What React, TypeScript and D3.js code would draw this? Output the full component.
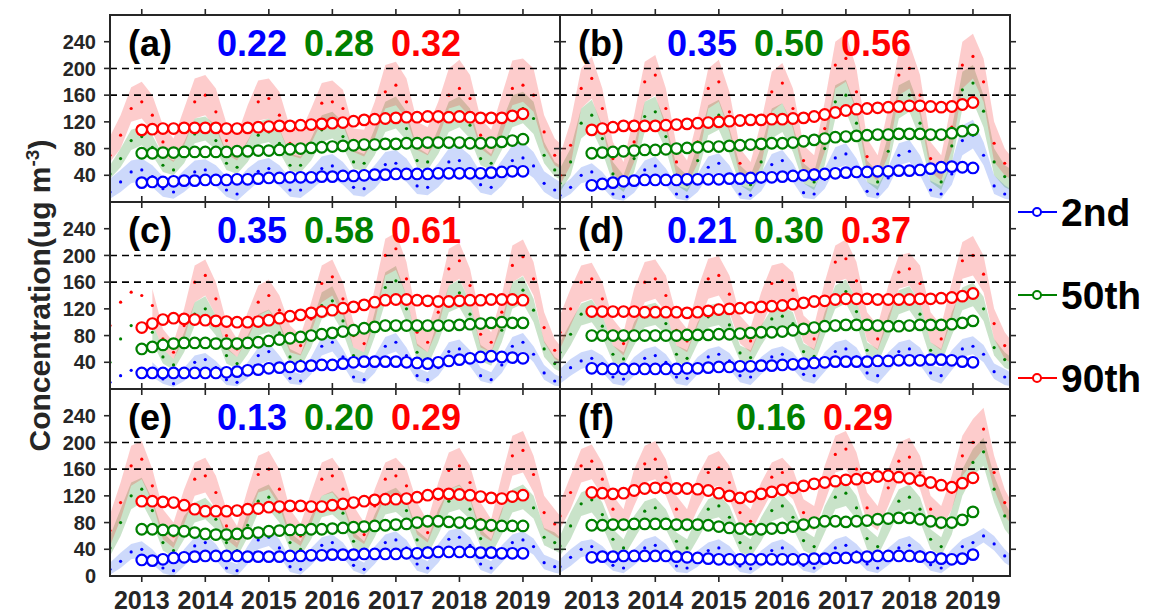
import * as d3 from 'd3'

// sample times: bands/dots every 2 months from Jul 2012, trends every 2 months 2013-2019
const BAND_T = d3.range(44).map(k => 2012.5 + k / 6)
const TREND_T = d3.range(37).map(k => 2013 + k / 6)
const YEAR_TICKS = [2013, 2014, 2015, 2016, 2017, 2018, 2019]
const Y_TICKS = [40, 80, 120, 160, 200, 240]
const DASH_LEVELS = [160, 200]
const SERIES = ['2nd', '50th', '90th']
const LINE_COLORS = ['#0000ff', '#008000', '#ff0000']
const BAND_COLORS = ['#2f62f0', '#1e8c1e', '#f52a2a']
const PANEL_TAGS = ['(a)', '(b)', '(c)', '(d)', '(e)', '(f)']
const PANEL_R = [
  ['0.22', '0.28', '0.32'],
  ['0.35', '0.50', '0.56'],
  ['0.35', '0.58', '0.61'],
  ['0.21', '0.30', '0.37'],
  ['0.13', '0.20', '0.29'],
  ['', '0.16', '0.29'],
]

const _ = null

// ---- panel (a)
const aBlueHi = [35,48,62,65,55,38, 32,48,62,64,55,38, 32,50,62,66,55,36, 35,50,68,72,60,40, 38,55,75,78,65,42, 40,58,80,83,70,44, 40,62,85,90,75,46, 35,25]
const aBlueLo = [5,15,28,32,22,8, 5,15,28,32,24,8, 2,16,30,34,24,8, 6,18,32,36,26,10, 8,20,38,40,30,12, 10,22,40,44,32,14, 10,24,44,48,36,15, 5,2]
const aBlueDot = [15,30,45,48,38,20, 15,30,45,48,38,18, 12,32,46,50,38,18, 18,34,50,54,42,22, 20,36,56,58,46,24, 22,38,60,62,50,26, 22,40,62,66,54,28, 18,12]
const aGreenHi = [55,80,108,113,100,70, 62,90,125,128,115,75, 65,92,120,125,110,72, 68,95,130,135,120,78, 72,110,150,158,135,82, 72,110,150,158,140,85, 72,120,160,165,150,90, 60,50]
const aGreenLo = [35,52,78,85,70,45, 40,58,88,92,78,48, 42,60,86,90,75,46, 44,62,90,95,82,50, 46,70,105,110,92,52, 48,72,105,112,95,55, 48,78,112,118,102,58, 38,30]
const aGreenDot = [42,65,92,98,82,55, 48,72,102,108,92,58, 52,75,100,105,88,55, 55,75,108,112,98,60, 58,88,125,130,110,62, 60,88,125,132,115,65, 58,95,135,140,125,70, 48,40]
const aRedHi = [98,130,172,180,160,115, 95,140,185,190,170,118, 100,145,182,185,165,112, 105,140,178,182,168,110, 108,150,205,210,185,120, 112,150,200,213,190,125, 108,160,212,215,200,130, 95,80]
const aRedLo = [60,80,120,125,105,70, 60,85,125,130,110,72, 62,90,122,125,108,70, 65,88,120,125,115,75, 68,95,140,145,125,78, 70,95,140,145,128,80, 68,100,145,150,135,82, 55,45]
const aRedDot = [70,100,140,150,130,90, 75,105,150,160,135,92, 78,115,150,155,130,88, 80,112,148,150,140,90, 85,120,165,175,150,95, 88,120,160,170,155,100, 85,125,170,175,160,105, 70,60]
const aBlueTrend = [29,30,30,31,32,32, 33,33,33,34,34,35, 36,36,37,37,37,38, 38,39,39,40,41,41, 42,42,42,42,43,43, 43,43,43,44,45,46, 46]
const aGreenTrend = [73,73,74,74,75,75, 75,75,75,76,76,77, 77,78,79,80,81,82, 83,84,85,86,86,87, 87,88,88,89,89,89, 89,88,88,89,90,92, 94]
const aRedTrend = [108,109,110,110,111,111, 111,111,110,110,111,112, 113,114,114,115,116,117, 118,119,121,123,124,125, 126,127,127,128,128,127, 128,127,126,126,126,129, 132]

// ---- panel (b)
const bBlueHi = [22,35,52,58,45,25, 20,40,62,68,50,25, 20,42,68,73,55,25, 20,44,72,78,58,28, 22,50,82,88,65,30, 24,52,88,93,70,32, 24,60,115,123,90,40, 25,15]
const bBlueLo = [3,12,28,32,22,5, 2,14,35,40,25,5, 2,15,38,44,28,5, 3,16,42,48,30,6, 4,20,50,55,35,8, 5,22,55,60,40,8, 5,26,70,80,55,12, 5,2]
const bBlueDot = [10,22,40,45,32,12, 8,26,48,54,36,12, 8,28,52,58,40,12, 10,30,56,62,42,14, 12,34,66,72,48,16, 12,36,70,76,52,18, 12,42,92,100,70,24, 12,6]
const bGreenHi = [50,80,140,153,115,60, 40,85,150,158,118,55, 40,85,145,153,110,55, 40,82,140,148,115,58, 45,105,175,183,140,62, 45,100,175,183,140,60, 45,110,195,205,160,80, 55,45]
const bGreenLo = [15,40,95,108,75,28, 15,45,105,112,78,25, 15,42,100,108,72,25, 15,40,95,105,75,28, 18,55,125,135,95,30, 18,52,125,135,95,30, 18,58,140,150,112,40, 22,15]
const bGreenDot = [28,60,118,130,95,42, 25,65,128,135,98,40, 26,62,122,130,90,40, 26,60,118,126,95,42, 30,80,150,160,118,45, 30,76,150,160,118,45, 30,84,168,178,136,60, 38,28]
const bRedHi = [70,120,200,218,170,90, 60,130,210,220,170,85, 62,125,200,213,165,80, 60,120,195,208,170,85, 70,150,240,252,200,95, 70,140,225,237,190,90, 70,150,240,252,215,120, 80,60]
const bRedLo = [25,55,140,155,110,45, 22,60,150,160,110,40, 25,58,140,150,105,38, 25,55,135,148,110,40, 30,75,170,180,135,45, 32,70,160,170,130,45, 32,78,170,185,150,60, 40,30]
const bRedDot = [40,85,170,185,140,65, 35,90,180,190,140,60, 40,90,170,180,135,58, 40,88,165,178,140,62, 48,110,205,215,165,68, 50,105,190,200,160,65, 50,112,205,218,180,88, 58,45]
const bBlueTrend = [25,27,29,31,32,33, 33,33,33,34,34,34, 34,35,35,36,37,37, 38,39,40,41,42,43, 44,45,45,46,46,47, 47,48,50,52,53,52, 51]
const bGreenTrend = [73,74,75,76,77,78, 78,79,80,81,82,83, 83,84,85,86,87,88, 88,89,91,93,95,97, 98,99,100,101,101,102, 102,102,101,101,103,106, 108]
const bRedTrend = [108,110,112,114,114,114, 114,115,116,117,118,119, 120,121,122,123,123,124, 124,125,126,128,131,134, 137,139,140,141,142,143, 144,144,143,142,143,146, 149]

// ---- panel (c)
const cBlueHi = [_,_,_,_,40,25, 18,32,50,54,42,25, 20,40,62,69,50,28, 22,48,78,84,60,30, 24,50,78,84,62,32, 25,45,70,74,58,32, 25,50,78,84,64,36, 22,15]
const cBlueLo = [_,_,_,_,18,8, 3,12,28,32,22,6, 4,16,36,42,28,8, 6,22,50,56,36,10, 8,24,50,56,38,12, 8,20,42,46,34,12, 8,24,50,56,40,14, 5,3]
const cBlueDot = [10,20,28,30,28,15, 8,22,40,44,32,14, 10,28,50,56,38,16, 12,34,64,70,48,18, 14,36,64,70,50,20, 14,32,56,60,46,20, 14,36,64,70,52,24, 12,6]
const cGreenHi = [_,_,_,_,100,60, 45,85,130,139,110,62, 48,80,112,119,100,60, 52,95,145,154,120,62, 55,115,175,184,140,68, 55,105,155,164,130,66, 55,105,160,169,135,72, 48,38]
const cGreenLo = [_,_,_,_,70,38, 28,55,95,100,80,38, 30,52,80,85,70,38, 32,62,105,112,85,40, 35,78,130,140,100,42, 35,70,115,122,95,42, 35,70,120,128,100,48, 30,22]
const cGreenDot = [40,75,95,95,85,48, 36,70,112,120,95,50, 38,66,96,102,84,48, 42,78,125,132,102,50, 45,95,152,162,120,55, 45,88,135,144,112,54, 45,88,140,148,118,60, 38,30]
const cRedHi = [_,_,_,_,150,90, 70,120,185,194,160,100, 75,115,155,164,140,95, 80,130,185,194,160,100, 85,150,225,234,190,105, 88,140,210,219,180,105, 85,140,215,224,190,115, 75,55]
const cRedLo = [_,_,_,_,100,60, 45,75,130,140,110,60, 48,75,110,118,95,55, 50,85,130,140,110,62, 55,100,170,178,140,65, 55,92,155,165,130,62, 55,92,160,170,140,70, 45,35]
const cRedDot = [95,130,145,140,125,75, 55,95,160,170,135,80, 60,95,130,140,118,75, 65,105,158,168,135,80, 68,125,200,210,165,85, 70,115,180,192,155,82, 70,115,185,198,165,92, 58,45]
const cBlueTrend = [24,24,24,24,24,24, 24,24,25,26,28,29, 31,32,33,34,35,36, 36,38,40,41,41,41, 41,40,39,38,40,42, 44,46,48,49,48,47, 46]
const cGreenTrend = [60,63,66,68,69,69, 69,68,68,68,69,70, 72,74,76,78,80,82, 84,86,88,91,93,95, 95,95,95,95,95,95, 96,97,98,99,100,99, 99]
const cRedTrend = [92,98,104,106,105,104, 103,102,101,100,100,101, 103,106,109,111,114,116, 118,121,123,126,130,133, 134,134,133,132,131,131, 132,133,133,134,134,134, 133]

// ---- panel (d)
const dBlueHi = [30,45,55,59,50,30, 28,48,60,64,52,30, 28,48,60,64,54,32, 30,48,60,64,55,34, 32,55,70,74,62,36, 32,55,70,74,62,36, 32,58,75,79,66,38, 30,20]
const dBlueLo = [8,20,30,35,25,8, 5,20,34,38,28,8, 5,22,36,40,30,10, 6,22,36,40,30,12, 8,26,44,48,36,14, 8,26,44,48,36,14, 8,28,48,52,40,15, 6,3]
const dBlueDot = [18,32,42,46,38,18, 15,34,46,50,40,18, 16,35,48,52,42,20, 18,35,48,52,42,22, 20,40,56,60,48,24, 20,40,56,60,48,24, 20,42,60,64,52,26, 18,10]
const dGreenHi = [70,100,128,134,110,65, 55,100,125,129,115,65, 58,100,125,129,112,65, 58,95,120,124,115,68, 60,115,155,164,135,70, 60,110,148,154,130,70, 60,115,152,159,138,75, 55,42]
const dGreenLo = [40,65,95,100,78,40, 35,65,92,96,82,40, 35,68,92,96,80,42, 36,65,90,94,82,44, 38,80,120,128,98,46, 38,75,112,118,95,45, 38,80,118,124,102,50, 32,25]
const dGreenDot = [55,82,112,118,94,52, 45,82,108,112,98,52, 46,84,108,112,96,54, 47,80,105,109,98,56, 49,98,138,146,116,58, 49,92,130,136,112,58, 49,98,135,142,120,62, 44,34]
const dRedHi = [110,150,185,189,160,105, 85,150,190,194,170,110, 90,150,195,199,170,110, 92,145,185,189,175,110, 95,160,215,224,190,115, 95,155,200,204,185,115, 95,160,220,229,200,120, 85,65]
const dRedLo = [60,95,130,135,110,65, 50,90,130,135,115,65, 55,95,135,140,115,68, 55,92,130,135,120,70, 58,105,160,165,135,72, 58,100,150,155,130,70, 58,105,165,170,145,75, 45,35]
const dRedDot = [85,120,160,165,135,85, 68,120,160,165,140,88, 72,122,165,170,142,88, 72,118,158,162,148,90, 75,132,190,195,162,92, 75,128,175,180,158,92, 75,132,192,200,172,98, 65,50]
const dBlueTrend = [31,30,30,30,30,30, 30,30,30,31,31,32, 33,33,34,34,35,35, 36,37,38,39,40,41, 41,41,41,42,42,43, 43,43,44,44,43,41, 40]
const dGreenTrend = [80,80,80,80,80,80, 80,80,80,81,81,81, 82,82,83,84,85,85, 86,88,90,92,94,95, 96,96,96,95,94,94, 95,96,96,96,97,99, 102]
const dRedTrend = [116,116,116,116,116,115, 115,115,115,114,115,117, 119,120,121,122,123,124, 125,127,129,131,132,134, 135,135,135,134,134,134, 134,135,135,136,137,139, 143]

// ---- panel (e)
const eBlueHi = [20,35,48,52,40,22, 18,40,58,62,48,24, 18,45,68,72,55,26, 20,42,58,62,50,28, 20,44,62,67,54,30, 22,48,68,72,58,30, 22,46,62,67,56,32, 25,18]
const eBlueLo = [2,12,25,28,18,4, 0,15,32,36,24,5, 0,18,40,45,30,6, 2,16,34,38,28,8, 2,18,38,42,30,8, 3,20,42,46,34,9, 3,20,38,42,32,10, 5,2]
const eBlueDot = [10,22,36,40,28,12, 8,26,45,50,36,12, 8,30,54,58,42,14, 10,28,46,50,38,16, 10,30,50,54,42,18, 12,32,55,58,46,18, 12,32,50,54,44,20, 14,8]
const eGreenHi = [60,100,140,147,115,65, 50,90,110,117,100,65, 50,95,130,137,112,65, 52,90,120,127,110,66, 52,92,125,132,115,68, 55,100,130,137,118,70, 55,100,130,137,120,72, 65,50]
const eGreenLo = [30,60,100,110,80,38, 28,55,80,85,70,38, 28,58,95,100,80,38, 30,55,88,92,78,40, 30,58,92,96,82,42, 32,62,95,100,85,44, 32,62,95,100,86,46, 38,30]
const eGreenDot = [42,80,120,130,98,50, 38,72,95,100,85,50, 38,76,112,118,96,50, 40,72,104,110,94,52, 40,75,108,114,98,54, 42,80,112,118,100,56, 42,80,112,118,102,58, 50,38]
const eRedHi = [92,140,195,202,160,100, 80,130,170,177,150,100, 75,130,180,187,160,100, 78,125,170,177,155,105, 80,130,170,177,160,110, 82,140,185,192,165,110, 85,150,210,217,180,120, 100,80]
const eRedLo = [45,85,135,145,110,55, 42,78,120,125,100,55, 42,80,125,130,105,55, 45,78,120,125,105,58, 48,82,120,125,110,62, 50,90,130,135,115,62, 52,95,150,155,125,70, 60,50]
const eRedDot = [68,110,165,175,135,75, 60,102,145,150,125,75, 58,105,152,160,130,75, 60,100,145,150,130,80, 62,105,145,150,135,85, 65,115,158,165,140,85, 68,120,180,188,152,95, 78,62]
const eBlueTrend = [24,23,25,27,28,29, 30,30,30,30,29,29, 29,29,30,30,31,31, 32,32,32,33,33,33, 33,34,34,35,36,36, 36,36,35,35,34,34, 34]
const eGreenTrend = [70,70,69,68,67,65, 63,62,62,63,64,65, 67,68,69,69,70,70, 71,72,73,74,75,76, 77,78,80,82,82,81, 80,79,77,76,75,75, 75]
const eRedTrend = [112,112,111,110,106,100, 97,97,97,98,100,101, 103,104,105,105,104,104, 106,108,110,112,114,115, 115,116,118,121,123,123, 122,121,119,117,116,119, 121]

// ---- panel (f)
const fBlueHi = [25,40,52,55,45,28, 22,40,55,60,48,26, 22,38,50,55,45,26, 20,38,50,55,45,28, 22,40,55,60,48,30, 22,42,55,60,48,28, 22,40,55,62,72,60, 40,25]
const fBlueLo = [5,15,28,32,22,8, 4,16,30,34,24,6, 4,14,28,30,22,6, 3,14,28,30,22,8, 4,16,30,34,24,8, 4,16,30,34,24,8, 4,16,32,40,50,38, 20,10]
const fBlueDot = [14,28,40,44,32,16, 12,28,42,46,36,15, 12,26,38,42,32,15, 11,26,38,42,32,16, 12,28,42,46,36,18, 12,28,42,46,36,17, 12,28,44,50,60,48, 30,16]
const fGreenHi = [60,95,125,132,110,70, 55,90,112,117,100,65, 55,90,115,122,105,65, 55,88,115,122,105,68, 58,105,135,142,120,72, 58,100,130,137,118,70, 58,100,160,190,207,150, 110,80]
const fGreenLo = [30,55,90,95,75,38, 28,55,82,86,70,38, 28,55,84,88,72,36, 28,52,82,88,72,38, 30,65,100,105,85,40, 30,62,95,100,82,40, 30,62,120,150,165,110, 70,50]
const fGreenDot = [45,75,108,114,92,55, 42,72,97,102,85,52, 42,72,100,105,88,50, 42,70,98,105,88,53, 44,85,118,124,102,56, 44,80,112,118,100,55, 44,80,140,170,186,130, 90,65]
const fRedHi = [110,150,190,197,170,120, 100,160,195,202,175,120, 100,150,180,187,165,115, 100,140,170,177,160,115, 105,165,210,217,185,125, 105,160,200,207,180,120, 105,150,210,235,252,180, 130,100]
const fRedLo = [70,100,140,145,120,80, 65,105,140,145,120,80, 65,100,130,135,115,75, 65,95,125,130,115,75, 68,110,155,160,135,80, 68,105,145,150,130,78, 68,100,150,170,190,130, 90,70]
const fRedDot = [90,125,165,172,145,100, 82,130,168,175,148,100, 82,125,155,162,140,95, 82,118,148,155,138,95, 86,138,182,190,160,102, 86,132,172,178,155,100, 86,125,180,200,220,155, 110,85]
const fBlueTrend = [28,29,29,30,30,30, 30,30,29,28,27,26, 25,25,25,25,25,25, 25,25,25,26,26,27, 27,28,29,30,30,30, 30,29,28,26,25,26, 32]
const fGreenTrend = [76,76,77,77,78,78, 78,78,77,77,77,76, 74,72,71,70,70,71, 72,74,77,80,82,82, 81,82,83,85,86,87, 87,85,82,80,80,84, 96]
const fRedTrend = [125,124,123,124,128,131, 132,132,131,131,130,128, 124,120,117,119,123,126, 129,132,135,138,140,142, 144,145,147,149,150,148, 146,143,140,136,133,139, 147]

type Series = { lo: (number | null)[]; hi: (number | null)[]; dot: number[]; trend: number[] }
const mk = (lo: (number | null)[], hi: (number | null)[], dot: number[], trend: number[]): Series => ({ lo, hi, dot, trend })

const PANELS: Series[][] = [
  [mk(aBlueLo, aBlueHi, aBlueDot, aBlueTrend), mk(aGreenLo, aGreenHi, aGreenDot, aGreenTrend), mk(aRedLo, aRedHi, aRedDot, aRedTrend)],
  [mk(bBlueLo, bBlueHi, bBlueDot, bBlueTrend), mk(bGreenLo, bGreenHi, bGreenDot, bGreenTrend), mk(bRedLo, bRedHi, bRedDot, bRedTrend)],
  [mk(cBlueLo, cBlueHi, cBlueDot, cBlueTrend), mk(cGreenLo, cGreenHi, cGreenDot, cGreenTrend), mk(cRedLo, cRedHi, cRedDot, cRedTrend)],
  [mk(dBlueLo, dBlueHi, dBlueDot, dBlueTrend), mk(dGreenLo, dGreenHi, dGreenDot, dGreenTrend), mk(dRedLo, dRedHi, dRedDot, dRedTrend)],
  [mk(eBlueLo, eBlueHi, eBlueDot, eBlueTrend), mk(eGreenLo, eGreenHi, eGreenDot, eGreenTrend), mk(eRedLo, eRedHi, eRedDot, eRedTrend)],
  [mk(fBlueLo, fBlueHi, fBlueDot, fBlueTrend), mk(fGreenLo, fGreenHi, fGreenDot, fGreenTrend), mk(fRedLo, fRedHi, fRedDot, fRedTrend)],
]

const FONT = '"Liberation Sans", Arial, Helvetica, sans-serif'
const INK = '#262626'

const COL_LEFT = [110, 560]
const ROW_TOP = [15, 202, 389]
const PW = 450
const PH = 187

export default function App() {
  const x = d3.scaleLinear().domain([2012.5, 2019.583]).range([0, PW])
  const y = d3.scaleLinear().domain([0, 280]).range([PH, 0])
  const legendY = d3.scalePoint<string>().domain(SERIES).range([212, 378])

  return (
    <svg width={1151} height={614} style={{ position: 'absolute', left: 0, top: 0, background: '#fff' }} fontFamily={FONT}>
      <defs>
        {PANELS.map((_p, pi) => (
          <clipPath id={`clip${pi}`} key={pi}>
            <rect x={0} y={0} width={PW} height={PH} />
          </clipPath>
        ))}
      </defs>
      {PANELS.map((series, pi) => {
        const col = pi % 2
        const row = Math.floor(pi / 2)
        const left = COL_LEFT[col]
        const top = ROW_TOP[row]
        const tags = PANEL_R[pi]
        const numX = pi === 5 ? 89 : 107
        return (
          <g key={pi} transform={`translate(${left},${top})`}>
            <g clipPath={`url(#clip${pi})`}>
              {series.map((s, si) => {
                const bandArea = d3
                  .area<number>()
                  .defined(i => s.lo[i] != null && s.hi[i] != null)
                  .x(i => x(BAND_T[i]))
                  .y0(i => y(s.lo[i] as number))
                  .y1(i => y(s.hi[i] as number))
                return (
                  <path key={si} d={bandArea(d3.range(BAND_T.length)) ?? ''} fill={BAND_COLORS[si]} fillOpacity={0.24} stroke="none" />
                )
              })}
              {series.map((s, si) => (
                <g key={si} fill={LINE_COLORS[si]}>
                  {s.dot.map((v, i) => (
                    <circle key={i} cx={x(BAND_T[i])} cy={y(v)} r={1.6} />
                  ))}
                </g>
              ))}
              {DASH_LEVELS.map(v => (
                <line key={v} x1={0} x2={PW} y1={y(v)} y2={y(v)} stroke="#000" strokeWidth={1.6} strokeDasharray="7,5" />
              ))}
              {series.map((s, si) => {
                const trendLine = d3
                  .line<number>()
                  .x(i => x(TREND_T[i]))
                  .y(i => y(s.trend[i]))
                return (
                  <g key={si}>
                    <path d={trendLine(d3.range(TREND_T.length)) ?? ''} fill="none" stroke={LINE_COLORS[si]} strokeWidth={2.5} />
                    {s.trend.map((v, i) => (
                      <circle key={i} cx={x(TREND_T[i])} cy={y(v)} r={5.3} fill="#fff" stroke={LINE_COLORS[si]} strokeWidth={2.2} />
                    ))}
                  </g>
                )
              })}
            </g>
            {/* frame and ticks */}
            <rect x={0} y={0} width={PW} height={PH} fill="none" stroke={INK} strokeWidth={2} />
            {YEAR_TICKS.map(t => (
              <g key={t} stroke={INK} strokeWidth={1.6}>
                <line x1={x(t)} x2={x(t)} y1={PH} y2={PH + 6} />
                <line x1={x(t)} x2={x(t)} y1={0} y2={-6} />
              </g>
            ))}
            {Y_TICKS.map(v => (
              <g key={v} stroke={INK} strokeWidth={1.6}>
                <line x1={0} x2={-6} y1={y(v)} y2={y(v)} />
                <line x1={PW} x2={PW + 6} y1={y(v)} y2={y(v)} />
              </g>
            ))}
            {col === 0 &&
              (row === 2 ? [0, ...Y_TICKS] : Y_TICKS).map(v => (
                <text key={v} x={-14} y={y(v)} dy="0.36em" textAnchor="end" fontSize={20} fontWeight="bold" fill={INK}>
                  {v}
                </text>
              ))}
            {row === 2 &&
              YEAR_TICKS.map(t => (
                <text key={t} x={x(t)} y={PH + 33} textAnchor="middle" fontSize={25} fontWeight="bold" fill={INK}>
                  {t}
                </text>
              ))}
            <text x={18} y={41} fontSize={36} fontWeight="bold" fill="#000">
              {PANEL_TAGS[pi]}
            </text>
            {tags.map((t, si) =>
              t ? (
                <text key={si} x={numX + si * 87} y={41} fontSize={36} fontWeight="bold" fill={LINE_COLORS[si]}>
                  {t}
                </text>
              ) : null
            )}
          </g>
        )
      })}
      {/* y label */}
      <text transform={`translate(50,${(ROW_TOP[0] + ROW_TOP[2] + PH) / 2}) rotate(-90)`} textAnchor="middle" fontSize={30} fontWeight="bold" fill={INK}>
        Concentration(ug m
        <tspan dy={-11} fontSize={19}>
          -3
        </tspan>
        <tspan dy={11}>)</tspan>
      </text>
      {/* legend */}
      {SERIES.map((name, si) => (
        <g key={name} transform={`translate(0,${legendY(name)})`}>
          <line x1={1018} x2={1057} y1={0} y2={0} stroke={LINE_COLORS[si]} strokeWidth={2} />
          <circle cx={1037} cy={0} r={4} fill="#fff" stroke={LINE_COLORS[si]} strokeWidth={2} />
          <text x={1061} y={14} fontSize={39} fontWeight="bold" fill="#000">
            {name}
          </text>
        </g>
      ))}
    </svg>
  )
}
